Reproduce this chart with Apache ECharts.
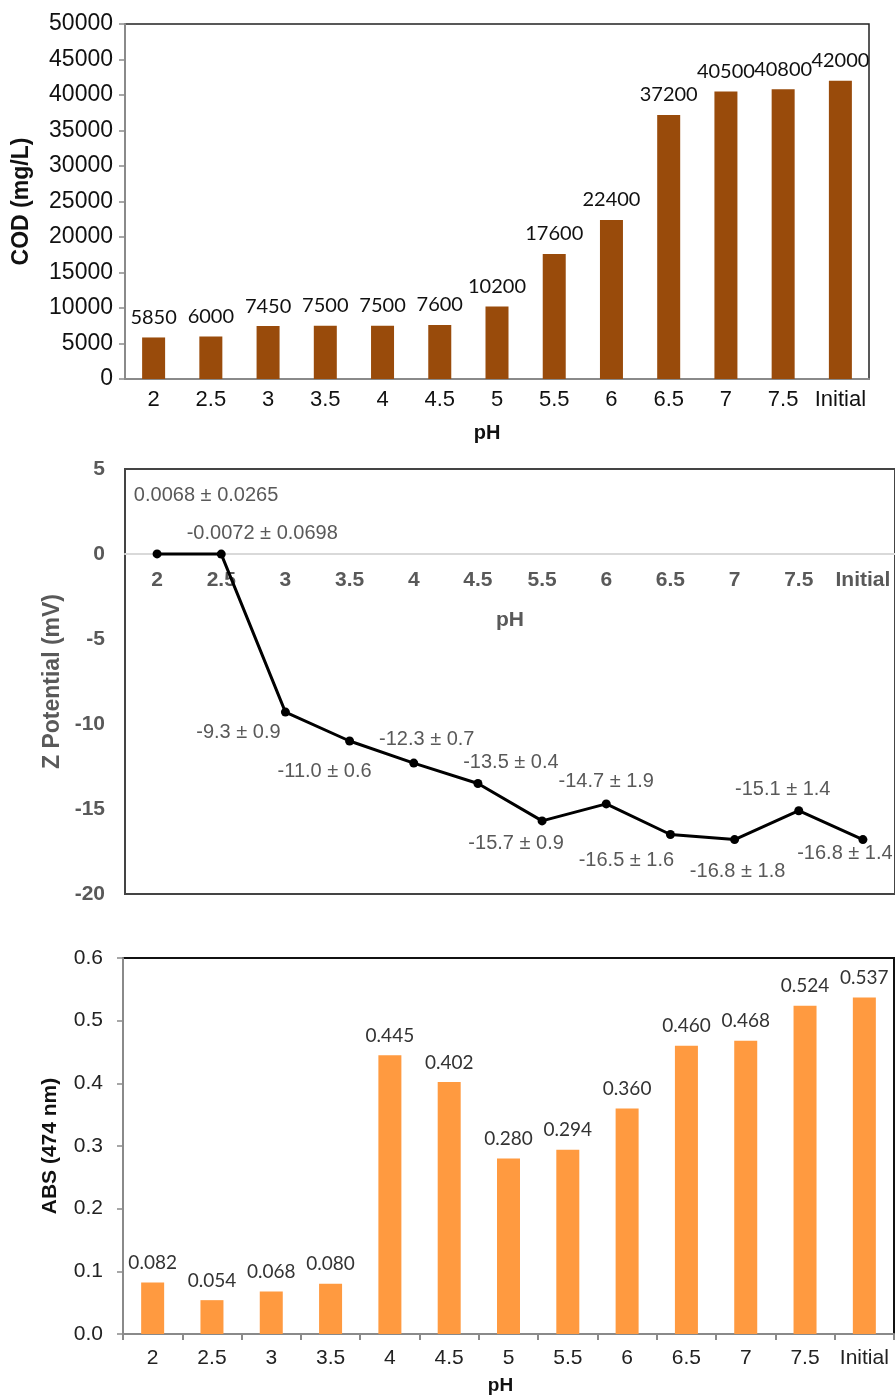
<!DOCTYPE html>
<html>
<head>
<meta charset="utf-8">
<script src="https://cdn.jsdelivr.net/npm/echarts@6/dist/echarts.min.js"></script>
<style>
html,body{margin:0;padding:0;background:#fff;}
#chart{width:895px;height:1396px;}
</style>
</head>
<body>
<div id="chart"></div>
<script>
// data
var codPH = ['2','2.5','3','3.5','4','4.5','5','5.5','6','6.5','7','7.5','Initial']
var codValues = [5850,6000,7450,7500,7500,7600,10200,17600,22400,37200,40500,40800,42000]

var zetaPH = ['2','2.5','3','3.5','4','4.5','5.5','6','6.5','7','7.5','Initial']
var zetaMean = [0.0068,-0.0072,-9.3,-11.0,-12.3,-13.5,-15.7,-14.7,-16.5,-16.8,-15.1,-16.8]
var zetaErr = ['0.0265','0.0698','0.9','0.6','0.7','0.4','0.9','1.9','1.6','1.8','1.4','1.4']

var absPH = ['2','2.5','3','3.5','4','4.5','5','5.5','6','6.5','7','7.5','Initial']
var absValues = [0.082,0.054,0.068,0.080,0.445,0.402,0.280,0.294,0.360,0.460,0.468,0.524,0.537]

// label placement for the zeta labels (px from point)
var zetaLabelOffset = [[49,-58],[41,-21],[-47,20],[-25,30],[13,-24],[33,-21],[-26,23],[0,-22],[-44,26],[3,32],[-16,-21],[-18,14]]

var arial = '"Liberation Sans", Arial, sans-serif'
var calibri = 'Lato, "Open Sans", sans-serif'

var zetaData = zetaMean.map(function(v,i){
    var txt = (Math.abs(v) < 1 ? v.toFixed(4) : v.toFixed(1)) + ' ± ' + zetaErr[i]
    return {
        value: v,
        label: { formatter: txt, offset: zetaLabelOffset[i] }
    }
})

var chart = echarts.init(document.getElementById('chart'))
var option = {
    animation: false,
    grid: [
        { left:125, top:24, width:744, height:355, show:true, borderColor:'#222', borderWidth:1.5, backgroundColor:'transparent' },
        { left:125, top:469, width:773, height:425, show:true, borderColor:'#444', borderWidth:2, backgroundColor:'transparent' },
        { left:123, top:958, width:771, height:378, show:true, borderColor:'#111', borderWidth:2, backgroundColor:'transparent' }
    ],
    xAxis: [
        {
            gridIndex:0, type:'category', data:codPH,
            axisLine:{ lineStyle:{ color:'#8a8a8a', width:2 } },
            axisTick:{ show:false },
            axisLabel:{ color:'#111', fontSize:22, fontFamily:arial, margin:10, interval:0 },
            name:'pH', nameLocation:'middle', nameGap:44,
            nameTextStyle:{ color:'#111', fontSize:20, fontWeight:'bold', fontFamily:arial, padding:[0,20,0,0] }
        },
        {
            // axis sits on the zero line (340px above the bottom of the box)
            gridIndex:1, type:'category', data:zetaPH, offset:-340,
            axisLine:{ onZero:false, lineStyle:{ color:'#d9d9d9', width:2 } },
            axisTick:{ show:false },
            axisLabel:{ color:'#595959', fontSize:21, fontWeight:'bold', fontFamily:arial, margin:16, interval:0 },
            name:'pH', nameLocation:'middle', nameGap:56,
            nameTextStyle:{ color:'#595959', fontSize:21, fontWeight:'bold', fontFamily:arial }
        },
        {
            gridIndex:2, type:'category', data:absPH,
            axisLine:{ lineStyle:{ color:'#8a8a8a', width:2 } },
            axisTick:{ show:true, inside:false, length:6, lineStyle:{ color:'#8a8a8a', width:2 } },
            axisLabel:{ color:'#222', fontSize:21, fontFamily:arial, margin:14, interval:0 },
            name:'pH', nameLocation:'middle', nameGap:42,
            nameTextStyle:{ color:'#111', fontSize:19, fontWeight:'bold', fontFamily:arial, padding:[0,16,0,0] }
        }
    ],
    yAxis: [
        {
            gridIndex:0, type:'value', min:0, max:50000, interval:5000,
            axisLine:{ show:true, lineStyle:{ color:'#8a8a8a', width:2 } },
            axisTick:{ show:true, length:6, lineStyle:{ color:'#8a8a8a', width:1.5 } },
            splitLine:{ show:false },
            axisLabel:{ color:'#111', fontSize:23, fontFamily:arial, margin:12, formatter:function(v){ return String(v) } },
            name:'COD (mg/L)', nameLocation:'middle', nameGap:92,
            nameTextStyle:{ color:'#111', fontSize:23, fontWeight:'bold', fontFamily:arial }
        },
        {
            gridIndex:1, type:'value', min:-20, max:5, interval:5,
            axisLine:{ show:false },
            axisTick:{ show:false },
            splitLine:{ show:false },
            axisLabel:{ color:'#595959', fontSize:21, fontWeight:'bold', fontFamily:arial, margin:20 },
            name:'Z Potential (mV)', nameLocation:'middle', nameGap:60,
            nameTextStyle:{ color:'#595959', fontSize:23, fontWeight:'bold', fontFamily:arial }
        },
        {
            gridIndex:2, type:'value', min:0, max:0.6, interval:0.1,
            axisLine:{ show:true, lineStyle:{ color:'#8a8a8a', width:2 } },
            axisTick:{ show:true, length:6, lineStyle:{ color:'#8a8a8a', width:1.5 } },
            splitLine:{ show:false },
            axisLabel:{ color:'#222', fontSize:21, fontFamily:arial, margin:20, formatter:function(v){ return v.toFixed(1) } },
            name:'ABS (474 nm)', nameLocation:'middle', nameGap:62,
            nameTextStyle:{ color:'#111', fontSize:21, fontWeight:'bold', fontFamily:arial }
        }
    ],
    series: [
        {
            type:'bar', xAxisIndex:0, yAxisIndex:0, data:codValues, barWidth:23,
            itemStyle:{ color:'#994B0B' },
            label:{ show:true, position:'top', distance:10, color:'#111', fontSize:20, fontFamily:calibri }
        },
        {
            type:'line', xAxisIndex:1, yAxisIndex:1, data:zetaData,
            symbol:'circle', symbolSize:9,
            lineStyle:{ color:'#000', width:3 },
            itemStyle:{ color:'#000' },
            label:{ show:true, position:'inside', color:'#595959', fontSize:20, fontFamily:arial }
        },
        {
            type:'bar', xAxisIndex:2, yAxisIndex:2, data:absValues, barWidth:23,
            itemStyle:{ color:'#FF9A40' },
            label:{ show:true, position:'top', distance:10, color:'#333', fontSize:19, fontFamily:calibri,
                formatter:function(p){ return p.value.toFixed(3) } }
        }
    ]
}
chart.setOption(option)
</script>
</body>
</html>
